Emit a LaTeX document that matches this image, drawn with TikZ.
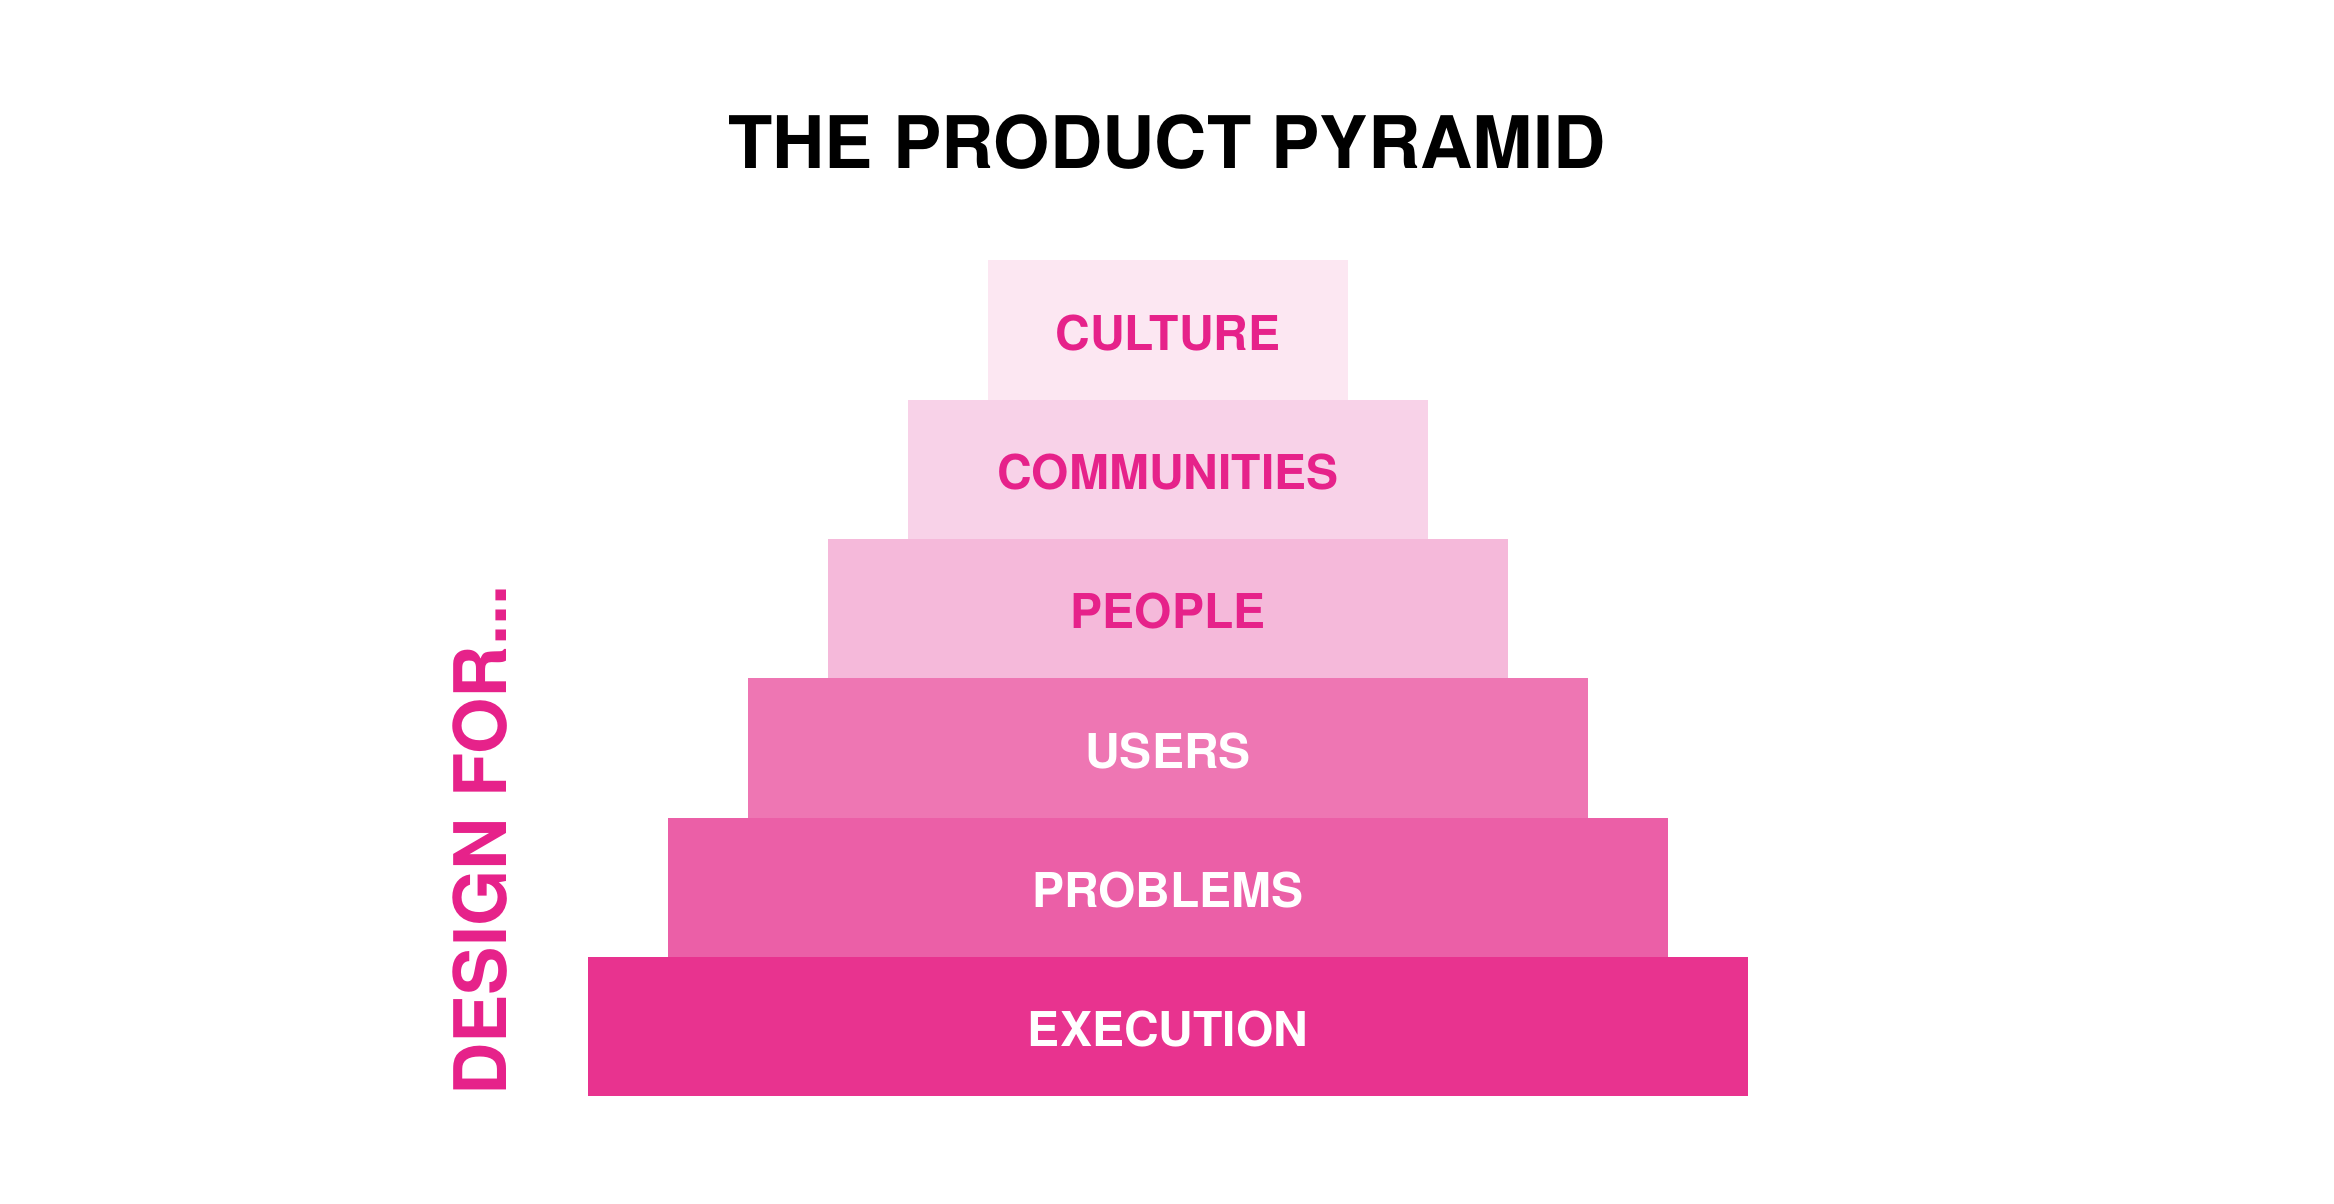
\documentclass[tikz,border=0pt]{standalone}
\usepackage{fontspec}
\setmainfont{TeX Gyre Heros}
\definecolor{cCulture}{HTML}{FCE7F2}
\definecolor{cComm}{HTML}{F8D2E8}
\definecolor{cPeople}{HTML}{F5B9DA}
\definecolor{cUsers}{HTML}{EE76B3}
\definecolor{cProb}{HTML}{EB5FA7}
\definecolor{cExec}{HTML}{E8338F}
\definecolor{cText}{HTML}{E6228A}
\begin{document}
\begin{tikzpicture}[x=1pt,y=-1pt,
  lab/.style={inner sep=0,anchor=base,font=\fontsize{48}{50}\selectfont\bfseries},
  pinklab/.style={lab,text=cText},
  whitelab/.style={lab,text=white}]
\useasboundingbox (0,0) rectangle (2334,1204);
\fill[white] (0,0) rectangle (2334,1204);
% tiers
\fill[cCulture] (988,260) rectangle (1348,400);
\fill[cComm]    (908,399.5) rectangle (1428,539);
\fill[cPeople]  (828,538.5) rectangle (1508,678);
\fill[cUsers]   (748,677.5) rectangle (1588,818);
\fill[cProb]    (668,817.5) rectangle (1668,957);
\fill[cExec]    (588,956.5) rectangle (1748,1096);
% labels
\node[pinklab]  (culture) at (1168,350) {CULTURE};
\node[pinklab]  (comm)    at (1168,489) {COMMUNITIES};
\node[pinklab]  (people)  at (1168,628.5) {PEOPLE};
\node[whitelab] (users)   at (1168,768) {USERS};
\node[whitelab] (prob)    at (1168,907) {PROBLEMS};
\node[whitelab] (exec)    at (1168,1046.5) {EXECUTION};
% title
\node[inner sep=0,anchor=base,font=\fontsize{72.5}{76}\selectfont\bfseries] (title) at (1167,168) {THE PRODUCT PYRAMID};
% side text
\node[inner sep=0,anchor=base west,rotate=90,text=cText,font=\fontsize{72.5}{76}\selectfont\bfseries] (side) at (506,1096) {DESIGN FOR...};
\end{tikzpicture}
\end{document}
